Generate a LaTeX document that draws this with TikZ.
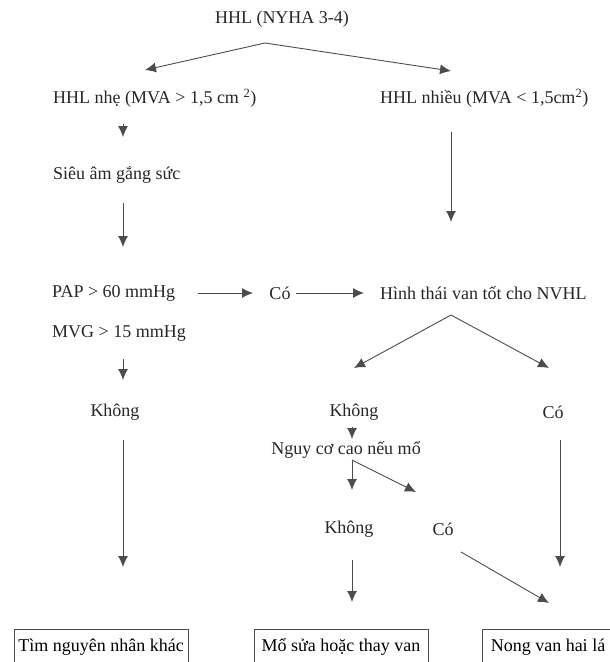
\documentclass[tikz,border=0pt]{standalone}
\usepackage{fontspec}
\setmainfont{Liberation Serif}
\usetikzlibrary{arrows.meta}

\tikzset{
  lbl/.style={inner sep=1pt, text=black!85},
  lblw/.style={lbl, anchor=west},
  endbox/.style={draw=black!70, line width=0.9pt, inner sep=0pt, minimum height=36pt},
  arr/.style={draw=black!70, line width=0.9pt, -{Latex[length=11pt,width=10pt]}}
}

\begin{document}
\begin{tikzpicture}[x=1pt,y=-1pt,font=\fontsize{18}{21}\selectfont]
\useasboundingbox (0,0) rectangle (610,662);

% texts
\node[lbl] (hhl) at (282,19) {HHL (NYHA 3-4)};
\node[lblw] (nhe) at (52,98) {HHL nhẹ (MVA > 1,5 cm \textsuperscript{2})};
\node[lblw] (nhieu) at (379,98) {HHL nhiều (MVA < 1,5cm\textsuperscript{2})};
\node[lblw] (sieuam) at (52,175) {Siêu âm gắng sức};
\node[lblw] (pap) at (51,293) {PAP > 60 mmHg};
\node[lbl] (co1) at (280,293) {Có};
\node[lblw] (hinhthai) at (379,293) {Hình thái van tốt cho NVHL};
\node[lblw] (mvg) at (51,333) {MVG > 15 mmHg};
\node[lbl] (khong1) at (115,412) {Không};
\node[lbl] (khong2) at (354,412) {Không};
\node[lbl] (co2) at (553,412) {Có};
\node[lbl] (nguyco) at (346,450) {Nguy cơ cao nếu mổ};
\node[lbl] (khong3) at (349,529) {Không};
\node[lbl] (co3) at (443,529) {Có};

% end boxes (cut off by the page edge)
\node[endbox, minimum width=174pt] (timnn) at (101,647) {Tìm nguyên nhân khác};
\node[endbox, minimum width=174pt] (mosua) at (341,647) {Mổ sửa hoặc thay van};
\node[endbox, minimum width=132pt] (nongvan) at (548,647) {Nong van hai lá};

% arrow ends
\coordinate (t0) at (265,43);
\coordinate (t1) at (145,70);
\coordinate (t2) at (451,71);
\coordinate (a1s) at (123,124); \coordinate (a1e) at (123,137);
\coordinate (a2s) at (123,203); \coordinate (a2e) at (123,247);
\coordinate (a3s) at (451,132); \coordinate (a3e) at (451,222);
\coordinate (h1s) at (198,293); \coordinate (h1e) at (253,293);
\coordinate (h2s) at (296,293); \coordinate (h2e) at (364,293);
\coordinate (f0) at (451,315);
\coordinate (f1) at (354,368);
\coordinate (f2) at (549,368);
\coordinate (a4s) at (123,359); \coordinate (a4e) at (123,380);
\coordinate (a5s) at (123,440); \coordinate (a5e) at (123,567);
\coordinate (a6s) at (352,427); \coordinate (a6e) at (352,439);
\coordinate (a7s) at (560,440); \coordinate (a7e) at (560,567);
\coordinate (n0) at (352,460);
\coordinate (n1) at (352,490);
\coordinate (n2) at (416,492);
\coordinate (a8s) at (352,560); \coordinate (a8e) at (352,602);
\coordinate (d1s) at (461,552); \coordinate (d1e) at (549,603);

% arrows
\draw[arr] (t0) -- (t1);
\draw[arr] (t0) -- (t2);
\draw[arr] (a1s) -- (a1e);
\draw[arr] (a2s) -- (a2e);
\draw[arr] (a3s) -- (a3e);
\draw[arr] (h1s) -- (h1e);
\draw[arr] (h2s) -- (h2e);
\draw[arr] (f0) -- (f1);
\draw[arr] (f0) -- (f2);
\draw[arr] (a4s) -- (a4e);
\draw[arr] (a5s) -- (a5e);
\draw[arr] (a6s) -- (a6e);
\draw[arr] (a7s) -- (a7e);
\draw[arr] (n0) -- (n1);
\draw[arr] (n0) -- (n2);
\draw[arr] (a8s) -- (a8e);
\draw[arr] (d1s) -- (d1e);
\end{tikzpicture}
\end{document}
